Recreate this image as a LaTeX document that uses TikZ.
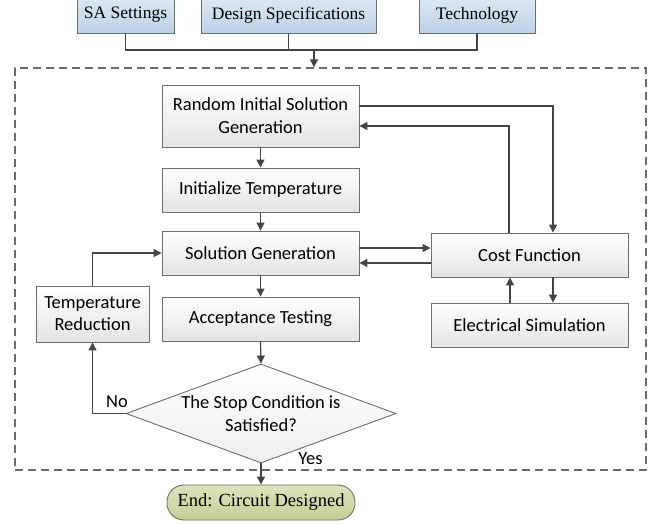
\documentclass[tikz,border=0pt]{standalone}
\usepackage{fontspec}
\setmainfont{Liberation Serif}
\newfontfamily\carlito{Carlito}
\usetikzlibrary{shapes.geometric,arrows.meta}
\definecolor{linec}{HTML}{454545}
\definecolor{boxline}{HTML}{6E6E6E}
\definecolor{bluetop}{HTML}{DDE8F3}
\definecolor{bluebot}{HTML}{BCD2E8}
\definecolor{graytop}{HTML}{FFFFFF}
\definecolor{graybot}{HTML}{E4E4E4}
\definecolor{greentop}{HTML}{DDE3BE}
\definecolor{greenbot}{HTML}{C4CF95}
\tikzset{
  inbox/.style={draw=boxline, line width=0.9pt, top color=bluetop, bottom color=bluebot,
    minimum height=36pt, inner sep=0pt, font=\fontsize{17.5}{20}\selectfont},
  pbox/.style={draw=boxline, line width=0.9pt, top color=graytop, bottom color=graybot,
    minimum width=197pt, minimum height=44pt, inner sep=0pt, align=center,
    font=\carlito\fontsize{18.5}{23}\selectfont},
  decide/.style={diamond, aspect=2.7, draw=boxline, line width=0.9pt, top color=graytop, bottom color=graybot!60,
    minimum width=270pt, minimum height=99pt, inner sep=-5pt, align=center,
    font=\carlito\fontsize{18.5}{23}\selectfont},
  endbox/.style={draw=boxline, line width=0.9pt, top color=greentop, bottom color=greenbot,
    rounded corners=17pt, minimum width=188pt, minimum height=35pt, inner sep=0pt,
    font=\fontsize{18.5}{20}\selectfont},
  frame/.style={draw=linec!80, line width=1.3pt, dash pattern=on 8pt off 5pt,
    minimum width=631pt, minimum height=402pt, inner sep=0pt},
  arr/.style={draw=linec, line width=1.2pt, -{Triangle[length=8pt,width=8pt]}},
  ln/.style={draw=linec, line width=1.2pt},
  lbl/.style={font=\carlito\fontsize{18.5}{20}\selectfont, inner sep=0pt}
}
\begin{document}
\begin{tikzpicture}[x=1pt,y=-1pt]
\useasboundingbox (0,0) rectangle (660,523);
\clip (0,0) rectangle (660,523);
% inputs
\node[inbox, minimum width=97pt] (sa) at (125.5,15) {SA Settings};
\node[inbox, minimum width=175pt] (ds) at (288.5,15) {Design Specifications};
\node[inbox, minimum width=116pt] (tech) at (477,15) {Technology};
% frame
\node[frame] (fr) at (330.5,269) {};
% process boxes
\node[pbox, minimum height=62pt] (risg) at (260.5,116) {Random Initial Solution\\Generation};
\node[pbox] (it) at (260.5,190) {Initialize Temperature};
\node[pbox] (sg) at (260.5,253) {Solution Generation};
\node[pbox] (at) at (260.5,319) {Acceptance Testing};
\node[pbox, minimum width=113pt, minimum height=56pt, font=\carlito\fontsize{18.5}{22}\selectfont] (tr) at (92.5,314) {Temperature\\Reduction};
\node[pbox] (cf) at (529.5,255) {Cost Function};
\node[pbox] (es) at (529.5,325) {Electrical Simulation};
\node[decide] (dc) at (261,413.5) {The Stop Condition is\\Satisfied?};
\node[endbox] (end) at (261,502.5) {End: Circuit Designed};
% labels
\node[lbl] (no) at (117,402) {No};
\node[lbl] (yes) at (310.5,459) {Yes};
% input connectors
\coordinate (j) at (314,50);
\draw[ln] (sa.south) |- (tech.south |- j) -- (tech.south);
\draw[ln] (ds.south) -- (ds.south |- j);
\draw[arr] (j) -- (j |- fr.north);
% main flow
\draw[arr] (risg.south) -- (it.north);
\draw[arr] (it.south) -- (sg.north);
\draw[arr] (sg.south) -- (at.north);
\draw[arr] (at.south) -- (dc.north);
\draw[arr] (dc.south) -- (end.north);
% cost loop
\draw[arr] ([yshift=10pt]risg.east) -| ([xshift=23.5pt]cf.north);
\draw[arr] ([xshift=-20.5pt]cf.north) |- ([yshift=-10pt]risg.east);
\path ([yshift=5pt]sg.east) coordinate (s1) ([yshift=-10pt]sg.east) coordinate (s2);
\draw[arr] (s1) -- (s1 -| cf.west);
\draw[arr] (s2 -| cf.west) -- (s2);
\draw[arr] ([xshift=23.5pt]cf.south) -- ([xshift=23.5pt]es.north);
\draw[arr] ([xshift=-19.5pt]es.north) -- ([xshift=-19.5pt]cf.south);
% temperature loop
\draw[arr] (tr.north) |- (sg.west);
\draw[arr] (dc.west) -| (tr.south);
\end{tikzpicture}
\end{document}
